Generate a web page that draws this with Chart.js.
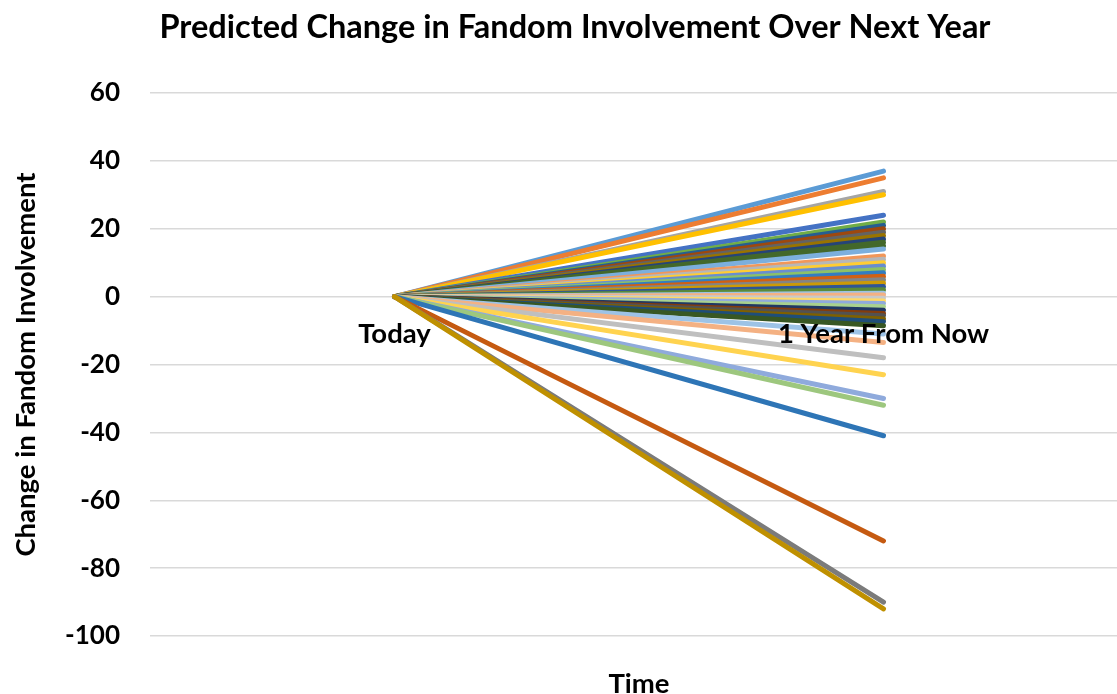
<!DOCTYPE html>
<html>
<head>
<meta charset="utf-8">
<script src="https://cdn.jsdelivr.net/npm/chart.js@4"></script>
<style>
  html, body { margin: 0; padding: 0; background: #fff; overflow: hidden; }
  #wrap { position: absolute; left: 0; top: 0; width: 1150px; height: 694px; }
</style>
</head>
<body>
<div id="wrap"><canvas id="c"></canvas></div>
<script>
const categories = ['Today', '1 Year From Now'];
const todayChange = 0;
const oneYearChange = [
  37, 35, 31, 30, 24, 22, 21, 20, 19, 18, 17, 16, 15, 14,
  12, 11, 10, 9, 8, 7, 6, 5, 4, 3, 2, 1, 0.5, -0.5,
  -1.3, -2, -3, -4, -5, -5.6, -6.6, -7.4, -8.6,
  -11, -13.5, -18, -23, -30, -32, -41, -72, -90, -92
];
const seriesColors = [
  '#5B9BD5', '#ED7D31', '#A5A5A5', '#FFC000', '#4472C4', '#70AD47', '#255E91',
  '#9E480E', '#636363', '#997300', '#264478', '#43682B', '#43682B', '#7CAFDD',
  '#F1975A', '#B7B7B7', '#FFCD33', '#698ED0', '#8CC168', '#327DC2', '#D26012',
  '#848484', '#CC9A06', '#2F5597', '#5A8A39', '#9DC3E6', '#F4B183', '#C9C9C9',
  '#FFD966', '#8FAADC', '#A9D18E', '#203864', '#843C0C', '#525252', '#7F6000',
  '#1F4E79', '#385723',
  '#9DC3E6', '#F4B183', '#BFBFBF', '#FFD34F', '#8FAADC', '#9DC77E', '#2E75B6',
  '#C55A11', '#7B7B7B', '#BF9000'
];
const yTicks = { min: -100, max: 60, step: 20 };

const datasets = oneYearChange.map((v, i) => ({
  label: 'Series ' + (i + 1),
  data: [todayChange, v],
  borderColor: seriesColors[i],
  backgroundColor: seriesColors[i],
  borderWidth: 5,
  borderCapStyle: 'round',
  borderJoinStyle: 'round',
  pointRadius: 0,
  pointHoverRadius: 0,
  fill: false,
  tension: 0
})).reverse();

const FONT = 'Lato, "Open Sans", sans-serif';

new Chart(document.getElementById('c'), {
  type: 'line',
  data: { labels: categories, datasets: datasets },
  options: {
    responsive: true,
    maintainAspectRatio: false,
    animation: false,
    layout: { padding: { left: 22, right: 22, top: 0, bottom: 0 } },
    plugins: {
      legend: { display: false },
      tooltip: { enabled: false },
      title: {
        display: true,
        text: 'Predicted Change in Fandom Involvement Over Next Year',
        color: '#000',
        font: { family: FONT, size: 32.5, weight: 'bold', lineHeight: 1.2 },
        padding: { top: 8, bottom: 46 }
      }
    },
    scales: {
      x: {
        type: 'category',
        position: { y: 0 },
        offset: true,
        z: 1,
        grid: { display: false, drawTicks: false },
        border: { display: false },
        ticks: {
          z: 1,
          color: '#000',
          padding: 21,
          maxRotation: 0,
          autoSkip: false,
          font: { family: FONT, size: 27.5, weight: 'bold', lineHeight: 1.2 }
        }
      },
      x2: {
        type: 'category',
        position: 'bottom',
        offset: true,
        grid: { display: false, drawTicks: false },
        border: { display: false },
        ticks: { display: false },
        title: {
          display: true,
          text: 'Time',
          color: '#000',
          font: { family: FONT, size: 27.5, weight: 'bold', lineHeight: 1 },
          padding: { top: 0, bottom: -4 }
        },
        afterFit: (s) => { s.height = 58; }
      },
      y: {
        type: 'linear',
        position: 'left',
        min: yTicks.min,
        max: yTicks.max,
        grid: { color: '#D9D9D9', lineWidth: 1.5, drawTicks: false },
        border: { display: false },
        ticks: {
          stepSize: yTicks.step,
          color: '#000',
          padding: 30,
          font: { family: FONT, size: 26, weight: 'bold' }
        },
        title: {
          display: true,
          text: 'Change in Fandom Involvement',
          color: '#000',
          font: { family: FONT, size: 27.5, weight: 'bold', lineHeight: 1.2 },
          padding: { top: -12, bottom: 0 }
        },
        afterFit: (s) => { s.width = 128; }
      }
    }
  }
});
</script>
</body>
</html>
